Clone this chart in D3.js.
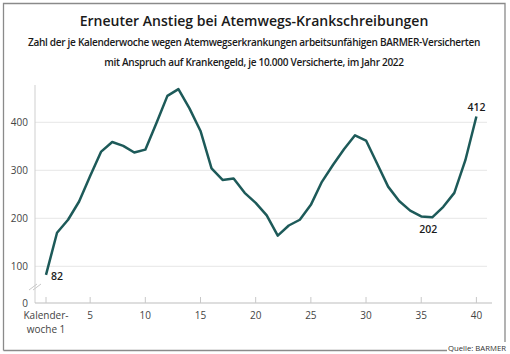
<!DOCTYPE html>
<html><head><meta charset="utf-8">
<script src="https://cdn.jsdelivr.net/npm/d3@7"></script>
<style>body{margin:0;background:#fff}svg{display:block;font-family:"Open Sans",Lato,sans-serif}</style>
</head><body><svg id="c" width="510" height="354"></svg>
<script>
const weeks = d3.range(1, 41);
const values = [82,170,197,235,288,339,359,351,337,343,398,455,469,429,382,304,280,283,253,232,206,164,185,197,228,276,311,344,373,362,314,266,236,216,204,202,224,253,321,412];
const yTicks = [0,100,200,300,400];
const xTicks = [1,5,10,15,20,25,30,35,40];
const annotations = [{w:1,label:"82"},{w:36,label:"202"},{w:40,label:"412"}];
const title = "Erneuter Anstieg bei Atemwegs-Krankschreibungen";
const subtitle = ["Zahl der je Kalenderwoche wegen Atemwegserkrankungen arbeitsunfähigen BARMER-Versicherten","mit Anspruch auf Krankengeld, je 10.000 Versicherte, im Jahr 2022"];
const source = "Quelle: BARMER";

const svg = d3.select("#c");
const x = d3.scaleLinear().domain([1,40]).range([46,476.4]);
const y = d3.scaleLinear().domain([0,60,500]).range([303,285.5,74.3]);

// frame
const fr = svg.append("g").attr("stroke","#8a8a8a").attr("stroke-width",1.3).attr("fill","none");
fr.append("path").attr("d","M3.5,350.5V3.5H505V342");
fr.append("path").attr("d","M3.5,350.5H447");

// titles
function fit(t, w){ const n=t.node(); const l=n.getComputedTextLength(); if(l>0){ t.attr("font-size", parseFloat(t.attr("font-size"))*w/l); } }
const tt = svg.append("text").attr("x",254).attr("y",26).attr("text-anchor","middle").attr("font-size",16).attr("font-weight",600).attr("fill","#1a1a1a").text(title);
fit(tt,349);
const s1 = svg.append("text").attr("x",254).attr("y",46).attr("text-anchor","middle").attr("font-size",11).attr("font-weight",600).attr("fill","#1a1a1a").attr("letter-spacing",-0.3).text(subtitle[0]);
fit(s1,455);
const s2 = svg.append("text").attr("x",254).attr("y",66).attr("text-anchor","middle").attr("font-size",s1.attr("font-size")).attr("font-weight",600).attr("fill","#1a1a1a").attr("letter-spacing",-0.3).text(subtitle[1]);

// grid
svg.append("g").selectAll("line").data(yTicks.filter(d=>d>0)).join("line")
  .attr("x1",35).attr("x2",487).attr("y1",d=>y(d)).attr("y2",d=>y(d))
  .attr("stroke","#e6e6e6").attr("stroke-width",1);

// y axis line
svg.append("line").attr("x1",35).attr("x2",35).attr("y1",85).attr("y2",y(0)).attr("stroke","#cfcfcf");
// break marks
[0,4].forEach(o=>svg.append("line").attr("x1",29+o).attr("x2",37+o).attr("y1",290).attr("y2",284).attr("stroke","#c8c8c8").attr("stroke-width",1));

// y labels
svg.append("g").selectAll("text").data(yTicks).join("text")
  .attr("x",28).attr("y",d=>y(d)+3.5).attr("text-anchor","end").attr("font-size",10).attr("fill","#444").text(d=>d);

// x axis
svg.append("line").attr("x1",35).attr("x2",492).attr("y1",y(0)).attr("y2",y(0)).attr("stroke","#bdbdbd");
svg.append("g").selectAll("line").data(xTicks).join("line")
  .attr("x1",d=>x(d)).attr("x2",d=>x(d)).attr("y1",y(0)-6).attr("y2",y(0)).attr("stroke","#c8c8c8");
const xl = svg.append("g").attr("font-size",10).attr("fill","#444").attr("text-anchor","middle");
xTicks.forEach(d=>{
  if(d===1){
    xl.append("text").attr("x",x(d)).attr("y",319).text("Kalender-");
    xl.append("text").attr("x",x(d)).attr("y",333).text("woche 1");
  } else xl.append("text").attr("x",x(d)).attr("y",319).text(d);
});

// line
svg.append("path").datum(values).attr("fill","none").attr("stroke","#1d5a59").attr("stroke-width",2.5).attr("stroke-linejoin","round")
  .attr("d", d3.line().x((d,i)=>x(weeks[i])).y(d=>y(d)));

// annotations
const an = svg.append("g").attr("font-size",10.5).attr("font-weight",600).attr("fill","#1a1a1a");
annotations.forEach(a=>{
  const v = values[a.w-1];
  if(a.w===1) an.append("text").attr("x",x(a.w)+5).attr("y",y(v)+5).text(a.label);
  else if(a.w===40) an.append("text").attr("x",x(a.w)).attr("y",y(v)-6).attr("text-anchor","middle").text(a.label);
  else an.append("text").attr("x",x(a.w)-4).attr("y",y(v)+16).attr("text-anchor","middle").text(a.label);
});

// source
const src = svg.append("text").attr("x",506).attr("y",351).attr("text-anchor","end").attr("font-size",9).attr("fill","#333").text(source);
fit(src,58);
</script></body></html>
